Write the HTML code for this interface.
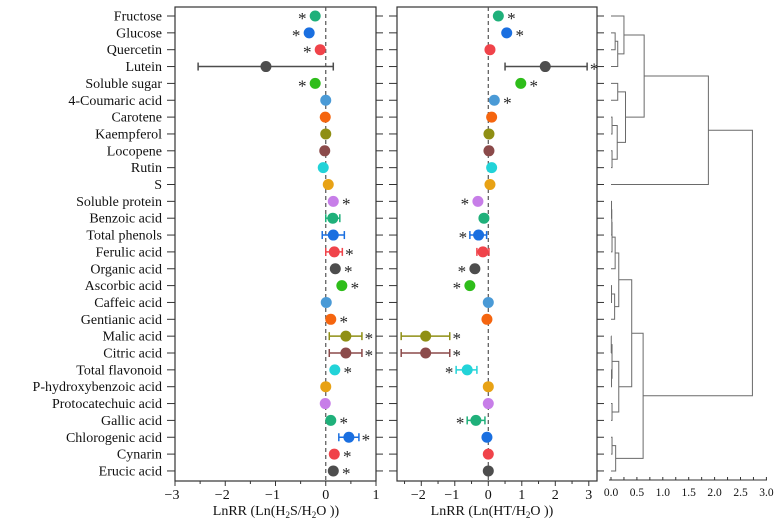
<!DOCTYPE html>
<html><head><meta charset="utf-8"><style>
html,body{margin:0;padding:0;background:#fff;}
svg{display:block;font-family:"Liberation Serif",serif;}
</style></head><body>
<svg id="chart" width="776" height="522" viewBox="0 0 776 522" xmlns="http://www.w3.org/2000/svg"></svg>
<script>
const categories=["Fructose","Glucose","Quercetin","Lutein","Soluble sugar","4-Coumaric acid","Carotene","Kaempferol","Locopene","Rutin","S","Soluble protein","Benzoic acid","Total phenols","Ferulic acid","Organic acid","Ascorbic acid","Caffeic acid","Gentianic acid","Malic acid","Citric acid","Total flavonoid","P-hydroxybenzoic acid","Protocatechuic acid","Gallic acid","Chlorogenic acid","Cynarin","Erucic acid"];
const colors=["#1fb07a","#1a6fe0","#f0434a","#4d4d4d","#2ebd1a","#4a9ad6","#f5650f","#8f8f14","#8b4a4a","#22d3d8","#e8a215","#c77ee8","#1fb07a","#1a6fe0","#f0434a","#4d4d4d","#2ebd1a","#4a9ad6","#f5650f","#8f8f14","#8b4a4a","#22d3d8","#e8a215","#c77ee8","#1fb07a","#1a6fe0","#f0434a","#4d4d4d"];
// H2S panel
const h2sValues=[-0.21,-0.33,-0.11,-1.19,-0.21,0.0,-0.01,0.0,-0.02,-0.05,0.05,0.15,0.14,0.15,0.17,0.19,0.32,0.01,0.10,0.40,0.40,0.18,0.0,-0.01,0.10,0.46,0.17,0.15];
const h2sLow=[null,null,null,-2.54,null,null,null,null,null,null,null,null,0.0,-0.07,0.0,null,null,null,null,0.07,0.07,null,null,null,null,0.26,null,null];
const h2sHigh=[null,null,null,0.15,null,null,null,null,null,null,null,null,0.28,0.37,0.33,null,null,null,null,0.72,0.72,null,null,null,null,0.66,null,null];
const h2sSig=["L","L","L","","L","","","","","","","R","","","R","R","R","","R","R","R","R","","","R","R","R","R"];
// HT panel
const htValues=[0.30,0.55,0.05,1.70,0.97,0.18,0.10,0.02,0.02,0.10,0.05,-0.31,-0.13,-0.29,-0.16,-0.40,-0.55,0.0,-0.04,-1.87,-1.87,-0.63,0.0,0.0,-0.37,-0.04,0.0,0.0];
const htLow=[null,null,null,0.50,null,null,null,null,null,null,null,null,null,-0.55,-0.34,null,null,null,null,-2.6,-2.6,-0.96,null,null,-0.63,null,null,null];
const htHigh=[null,null,null,2.95,null,null,null,null,null,null,null,null,null,-0.05,0.02,null,null,null,null,-1.15,-1.15,-0.34,null,null,-0.10,null,null,null];
const htSig=["R","R","","R","R","R","","","","","","L","","L","","L","L","","","R","R","L","","","L","","",""];
const h2sTicks=[-3,-2,-1,0,1];
const htTicks=[-2,-1,0,1,2,3];
const dendroTicks=["0.0","0.5","1.0","1.5","2.0","2.5","3.0"];
// merges: [childA, childB, height]; leaves 0..27, nodes 28+
const merges=[[1,2,0.08],[28,3,0.13],[0,29,0.25],[4,5,0.13],[6,7,0.02],[8,9,0.02],[32,33,0.12],[31,34,0.28],[30,35,0.64],[36,10,1.88],
[11,12,0.01],[38,13,0.015],[39,14,0.02],[40,15,0.08],[16,17,0.01],[42,18,0.07],[41,43,0.15],[19,20,0.005],[21,22,0.01],[45,46,0.02],[23,24,0.02],[47,48,0.15],[44,49,0.40],[25,26,0.02],[51,27,0.09],[50,52,0.62],[37,53,2.73]];

const NS="http://www.w3.org/2000/svg";
const svg=document.getElementById('chart');
function mk(tag,attrs,parent,text){const e=document.createElementNS(NS,tag);for(const k in attrs)e.setAttribute(k,attrs[k]);if(text!==undefined)e.textContent=text;(parent||svg).appendChild(e);return e;}
const top0=7,bot=481,rowY0=16,rowStep=16.85;
const yRow=i=>rowY0+i*rowStep;

const lab=mk('g',{});  
categories.forEach((c,i)=>{const t=mk('text',{x:162,y:yRow(i)+4.5,'text-anchor':'end','font-size':14,fill:'#111'},lab,c);
 });

function panel(name,x0,x1,dmin,dmax,vals,lo,hi,sig,ticks,title,tcx){
  const g=mk('g',{});  
  const sx=v=>x0+(v-dmin)/(dmax-dmin)*(x1-x0);
  mk('rect',{x:x0,y:top0,width:x1-x0,height:bot-top0,fill:'none',stroke:'#333','stroke-width':1.2},g);
  categories.forEach((c,i)=>{mk('line',{x1:x0-8,x2:x0,y1:yRow(i),y2:yRow(i),stroke:'#333','stroke-width':1},g);
    mk('line',{x1:x1,x2:x1+7,y1:yRow(i),y2:yRow(i),stroke:'#333','stroke-width':1},g);});
  for(let v=Math.ceil(dmin*2)/2;v<=dmax+1e-9;v+=0.5){const isMaj=Math.abs(v-Math.round(v))<1e-9;
    mk('line',{x1:sx(v),x2:sx(v),y1:bot,y2:bot+(isMaj?5:3),stroke:'#333','stroke-width':1},g);}
  ticks.forEach(v=>{const t=mk('text',{x:sx(v)-(v<0?3:0),y:499,'text-anchor':'middle','font-size':14,fill:'#111'},g,v<0?'\u2212'+(-v):String(v));
     });
  mk('line',{x1:sx(0),x2:sx(0),y1:top0,y2:bot,stroke:'#555','stroke-width':1.2,'stroke-dasharray':'4,3'},g);
  const tt=mk('text',{x:tcx,y:515,'text-anchor':'middle','font-size':14,fill:'#111'},g);
   
  title.forEach(p=>{mk('tspan',p.sub?{'font-size':9,dy:3}:(p.up?{dy:-3}:{}),tt,p.t);});
  vals.forEach((v,i)=>{const y=yRow(i),c=colors[i];let right=sx(v)+6,left=sx(v)-6;
    if(lo[i]!==null){const lc=i===3?'#4d4d4d':c;const a=sx(lo[i]),b=sx(hi[i]);
      const eb=mk('g',{},g);  
      mk('line',{x1:a,x2:b,y1:y,y2:y,stroke:lc,'stroke-width':1.5},eb);
      mk('line',{x1:a,x2:a,y1:y-4,y2:y+4,stroke:lc,'stroke-width':1.5},eb);
      mk('line',{x1:b,x2:b,y1:y-4,y2:y+4,stroke:lc,'stroke-width':1.5},eb);
      right=Math.max(right,b);left=Math.min(left,a);}
    const m=mk('circle',{cx:sx(v),cy:y,r:5.5,fill:c},g);
    
    
    if(sig[i]){const ax=sig[i]==='R'?right+7:left-7;
      const s=mk('text',{x:ax,y:y+8,'text-anchor':'middle','font-size':17,fill:'#222'},g,'*');
       }
  });
}
panel('h2s-panel',175,376,-3,1,h2sValues,h2sLow,h2sHigh,h2sSig,h2sTicks,[{t:'LnRR (Ln(H'},{t:'2',sub:1},{t:'S/H',up:1},{t:'2',sub:1},{t:'O ))',up:1}],276);
panel('ht-panel',397,597,-2.725,3.245,htValues,htLow,htHigh,htSig,htTicks,[{t:'LnRR (Ln(HT/H'},{t:'2',sub:1},{t:'O ))',up:1}],492);

const dg=mk('g',{});  
const dx=h=>611+h*51.8;
const pos={};for(let i=0;i<categories.length;i++)pos[i]={y:yRow(i),h:0};
merges.forEach((m,k)=>{const a=pos[m[0]],b=pos[m[1]],h=m[2],id=categories.length+k;
  const p=mk('path',{d:`M${dx(a.h)},${a.y}H${dx(h)}V${b.y}H${dx(b.h)}`,fill:'none',stroke:'#6a6a6a','stroke-width':1},dg);
   
  pos[id]={y:(a.y+b.y)/2,h:h};});
const ax=mk('g',{});  
mk('line',{x1:609,x2:767,y1:480,y2:480,stroke:'#333','stroke-width':1},ax);
for(let v=0;v<=3.001;v+=0.25){mk('line',{x1:dx(v),x2:dx(v),y1:480,y2:477,stroke:'#333','stroke-width':1},ax);}
dendroTicks.forEach(s=>{const t=mk('text',{x:dx(parseFloat(s)),y:496,'text-anchor':'middle','font-size':11.5,fill:'#111'},ax,s);
   });
</script>
</body></html>
